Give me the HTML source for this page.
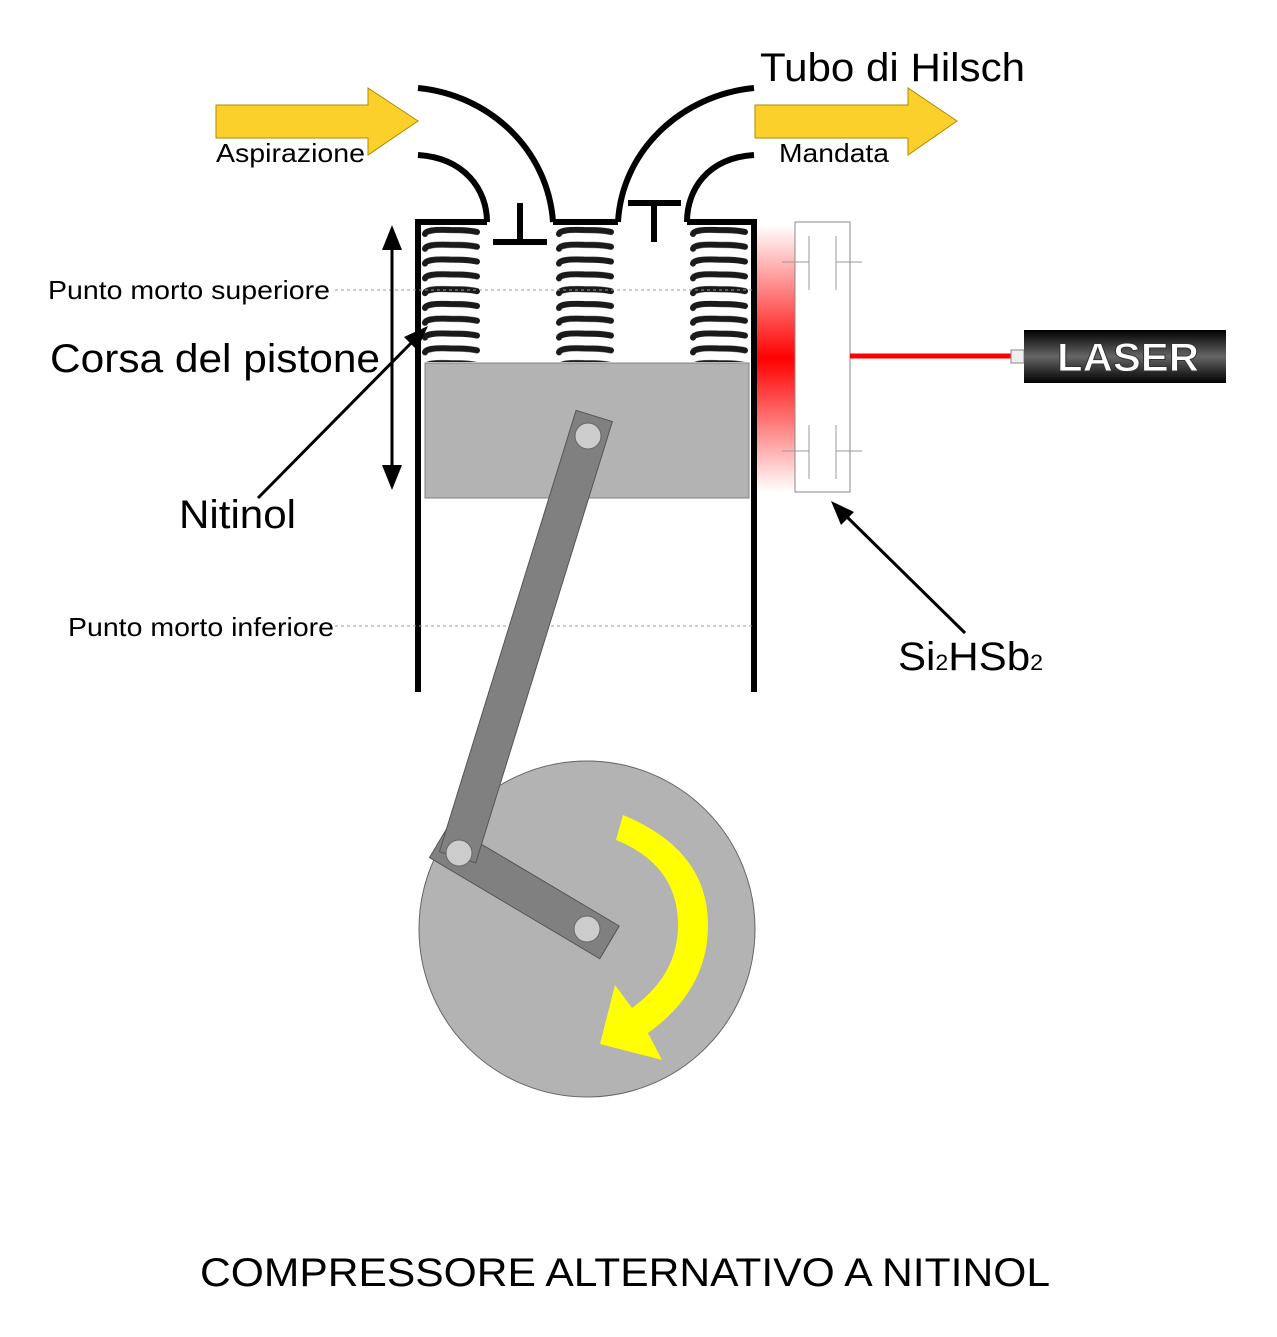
<!DOCTYPE html>
<html><head><meta charset="utf-8"><style>
body{margin:0;background:#fff}
svg{display:block}
text{font-family:"Liberation Sans",sans-serif;fill:#000}
</style></head><body>
<svg width="1277" height="1337" viewBox="0 0 1277 1337" xmlns="http://www.w3.org/2000/svg">
<defs>
<linearGradient id="red" x1="0" y1="0" x2="0" y2="1">
<stop offset="0" stop-color="#fff"/><stop offset="0.5" stop-color="#f00"/><stop offset="1" stop-color="#fff"/>
</linearGradient>
<linearGradient id="las" x1="0" y1="0" x2="0" y2="1">
<stop offset="0" stop-color="#000"/><stop offset="0.5" stop-color="#666"/><stop offset="1" stop-color="#000"/>
</linearGradient>
<pattern id="spring" x="0" y="226" width="60" height="14.8" patternUnits="userSpaceOnUse">
<path d="M5,8 Q6,3 30,4 Q50,4 57,6" stroke="#1a1a1a" stroke-width="6" fill="none" stroke-linecap="round"/>
</pattern>
</defs>

<path d="M216,105 H368 V88 L418,121 L368,155 V138 H216 Z" fill="#fcd02a" stroke="#b08a00" stroke-width="1"/>
<path d="M755,105 H908 V88 L957,121 L908,155 V138 H755 Z" fill="#fcd02a" stroke="#b08a00" stroke-width="1"/>

<g fill="none" stroke="#000" stroke-width="6">
<path d="M418,88 C490,95 548,150 553,222"/>
<path d="M418,155 C465,158 487,190 487,222"/>
<path d="M754,88 C682,95 622,150 618,222"/>
<path d="M754,155 C707,158 687,190 687,222"/>
<path d="M418,692 V222 H487"/>
<path d="M553,222 H618"/>
<path d="M687,222 H754 V692"/>
<path d="M520,203 V242 M493,242 H547"/>
<path d="M628,203 H681 M654,203 V242"/>
</g>

<rect x="422" y="226" width="60" height="136" fill="url(#spring)"/>
<g transform="translate(134,0)"><rect x="422" y="226" width="60" height="136" fill="url(#spring)"/></g>
<g transform="translate(268,0)"><rect x="422" y="226" width="60" height="136" fill="url(#spring)"/></g>

<rect x="425" y="363" width="324" height="135" fill="#b3b3b3" stroke="#808080"/>

<line x1="335" y1="290" x2="752" y2="290" stroke="#999" stroke-dasharray="3,3"/>
<line x1="335" y1="626" x2="752" y2="626" stroke="#999" stroke-dasharray="3,3"/>

<rect x="757" y="225" width="38" height="267" fill="url(#red)"/>

<rect x="795" y="222" width="55" height="270" fill="#fff" stroke="#888"/>
<g stroke="#999" stroke-width="1">
<path d="M782,262 H809 M809,236 V290 M836,236 V290 M836,262 H862"/>
<path d="M782,451 H809 M809,425 V479 M836,425 V479 M836,451 H862"/>
</g>
<line x1="850" y1="356" x2="1012" y2="356" stroke="#f00" stroke-width="5"/>
<rect x="1011" y="350" width="13" height="13" fill="#eee" stroke="#888"/>
<rect x="1024" y="330" width="202" height="53" fill="url(#las)"/>
<text x="1057" y="371" font-size="40" textLength="142" lengthAdjust="spacingAndGlyphs" style="font-weight:bold;fill:#fff;stroke:#333;stroke-width:1">LASER</text>

<line x1="392" y1="245" x2="392" y2="470" stroke="#000" stroke-width="3"/>
<path d="M382,250 L392,225 L402,250 Z M382,465 L392,490 L402,465 Z" fill="#000"/>
<line x1="258" y1="498" x2="420" y2="334" stroke="#000" stroke-width="3"/>
<path d="M428,326 L404,337 L417,350 Z" fill="#000"/>
<line x1="965" y1="633" x2="842" y2="512" stroke="#000" stroke-width="3"/>
<path d="M831,501 L841,525 L854,512 Z" fill="#000"/>

<circle cx="587" cy="929" r="168" fill="#b3b3b3" stroke="#666"/>
<path d="M623,815 Q708,850 708,925 Q708,990 648,1033 L662,1060 L600,1044 L615,985 L632,1008 Q678,975 678,925 Q678,865 616,840 Z" fill="#ff0"/>
<g transform="rotate(30.7 459 853)"><rect x="436" y="834" width="198" height="38" fill="#808080" stroke="#555"/></g>
<g transform="rotate(107.2 588 436)"><rect x="567" y="417" width="462" height="38" fill="#808080" stroke="#555"/></g>
<circle cx="588" cy="436" r="13" fill="#ccc" stroke="#666"/>
<circle cx="459" cy="853" r="13" fill="#ccc" stroke="#666"/>
<circle cx="587" cy="929" r="13" fill="#ccc" stroke="#666"/>

<text x="760" y="81" font-size="40" textLength="265" lengthAdjust="spacingAndGlyphs">Tubo di Hilsch</text>
<text x="216" y="162" font-size="26" textLength="149" lengthAdjust="spacingAndGlyphs">Aspirazione</text>
<text x="779" y="162" font-size="26" textLength="110" lengthAdjust="spacingAndGlyphs">Mandata</text>
<text x="48" y="299" font-size="26" textLength="282" lengthAdjust="spacingAndGlyphs">Punto morto superiore</text>
<text x="50" y="372" font-size="40" textLength="330" lengthAdjust="spacingAndGlyphs">Corsa del pistone</text>
<text x="179" y="528" font-size="40" textLength="117" lengthAdjust="spacingAndGlyphs">Nitinol</text>
<text x="68" y="636" font-size="26" textLength="266" lengthAdjust="spacingAndGlyphs">Punto morto inferiore</text>
<text x="898" y="670" font-size="40" textLength="145" lengthAdjust="spacingAndGlyphs">Si<tspan font-size="22">2</tspan>HSb<tspan font-size="22">2</tspan></text>
<text x="200" y="1286" font-size="40" textLength="850" lengthAdjust="spacingAndGlyphs">COMPRESSORE ALTERNATIVO A NITINOL</text>
</svg>
</body></html>
